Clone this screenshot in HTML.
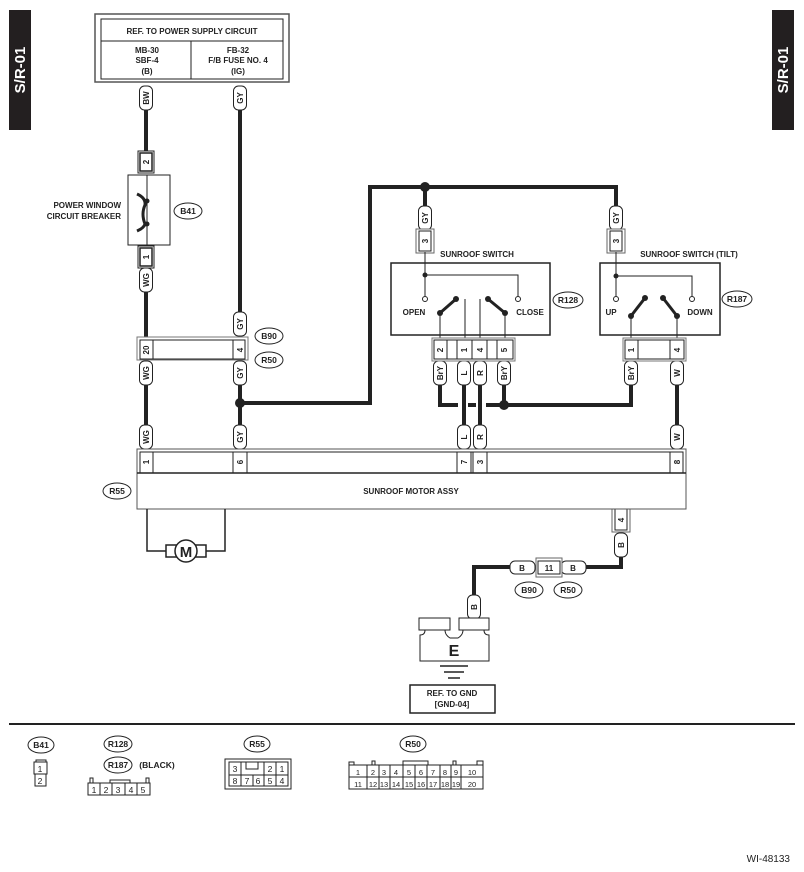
<!DOCTYPE html>
<html><head><meta charset="utf-8"><style>
html,body{margin:0;padding:0;background:#fff;}
svg{display:block;font-family:"Liberation Sans",Arial,sans-serif;font-weight:bold;}
</style></head><body>
<svg width="804" height="872" viewBox="0 0 804 872" xmlns="http://www.w3.org/2000/svg">
<defs>
<g id="pill"><rect x="-6.5" y="-12" width="13" height="24" rx="5" fill="#fff" stroke="#222" stroke-width="1"/></g>
</defs>
<!-- tabs -->
<rect x="9" y="10" width="22" height="120" fill="#231f20"/>
<text transform="translate(25,70) rotate(-90)" text-anchor="middle" fill="#fff" font-size="15">S/R-01</text>
<rect x="772" y="10" width="22" height="120" fill="#231f20"/>
<text transform="translate(788,70) rotate(-90)" text-anchor="middle" fill="#fff" font-size="15">S/R-01</text>

<!-- power box -->
<rect x="95" y="14" width="194" height="68" fill="#fff" stroke="#555" stroke-width="1.5"/>
<rect x="101" y="19" width="182" height="60" fill="#fff" stroke="#222" stroke-width="1"/>
<line x1="101" y1="41" x2="283" y2="41" stroke="#222"/>
<line x1="191" y1="41" x2="191" y2="79" stroke="#222"/>
<g font-size="8" text-anchor="middle" fill="#222">
<text x="192" y="34">REF. TO POWER SUPPLY CIRCUIT</text>
<text x="147" y="53">MB-30</text><text x="147" y="63">SBF-4</text><text x="147" y="74">(B)</text>
<text x="238" y="53">FB-32</text><text x="238" y="63">F/B FUSE NO. 4</text><text x="238" y="74">(IG)</text>
</g>

<!-- thick wires -->
<g stroke="#222" stroke-width="4" fill="none">
<line x1="146" y1="110" x2="146" y2="152"/>
<line x1="146" y1="292" x2="146" y2="337"/>
<line x1="146" y1="385" x2="146" y2="425"/>
<line x1="240" y1="110" x2="240" y2="312"/>
<line x1="240" y1="385" x2="240" y2="425"/>
<polyline points="240,403 370,403 370,187 616,187 616,207"/>
<line x1="425" y1="187" x2="425" y2="207"/>
<polyline points="440,385 440,405 631,405 631,385"/>
<line x1="504" y1="385" x2="504" y2="405"/>
<line x1="677" y1="385" x2="677" y2="425"/>
<polyline points="621,557 621,567 585,567"/>
<polyline points="510,567 474,567 474,595"/>
</g>
<g fill="#222">
<circle cx="240" cy="403" r="5"/><circle cx="425" cy="187" r="5"/><circle cx="504" cy="405" r="5"/>
</g>
<rect x="458" y="401" width="28" height="8" fill="#fff"/>
<g stroke="#222" stroke-width="4"><line x1="468" y1="405" x2="476" y2="405"/></g>
<g stroke="#222" stroke-width="4"><line x1="464" y1="385" x2="464" y2="425"/><line x1="480" y1="385" x2="480" y2="425"/></g>

<!-- pills -->
<g font-size="8" fill="#222" text-anchor="middle">
<g transform="translate(146,98)"><use href="#pill"/><text transform="rotate(-90)" y="3">BW</text></g>
<g transform="translate(240,98)"><use href="#pill"/><text transform="rotate(-90)" y="3">GY</text></g>
<g transform="translate(146,280)"><use href="#pill"/><text transform="rotate(-90)" y="3">WG</text></g>
<g transform="translate(240,324)"><use href="#pill"/><text transform="rotate(-90)" y="3">GY</text></g>
<g transform="translate(146,373)"><use href="#pill"/><text transform="rotate(-90)" y="3">WG</text></g>
<g transform="translate(240,373)"><use href="#pill"/><text transform="rotate(-90)" y="3">GY</text></g>
<g transform="translate(146,437)"><use href="#pill"/><text transform="rotate(-90)" y="3">WG</text></g>
<g transform="translate(240,437)"><use href="#pill"/><text transform="rotate(-90)" y="3">GY</text></g>
<g transform="translate(425,218)"><use href="#pill"/><text transform="rotate(-90)" y="3">GY</text></g>
<g transform="translate(616,218)"><use href="#pill"/><text transform="rotate(-90)" y="3">GY</text></g>
<g transform="translate(440,373)"><use href="#pill"/><text transform="rotate(-90)" y="3">BrY</text></g>
<g transform="translate(464,373)"><use href="#pill"/><text transform="rotate(-90)" y="3">L</text></g>
<g transform="translate(480,373)"><use href="#pill"/><text transform="rotate(-90)" y="3">R</text></g>
<g transform="translate(504,373)"><use href="#pill"/><text transform="rotate(-90)" y="3">BrY</text></g>
<g transform="translate(631,373)"><use href="#pill"/><text transform="rotate(-90)" y="3">BrY</text></g>
<g transform="translate(677,373)"><use href="#pill"/><text transform="rotate(-90)" y="3">W</text></g>
<g transform="translate(464,437)"><use href="#pill"/><text transform="rotate(-90)" y="3">L</text></g>
<g transform="translate(480,437)"><use href="#pill"/><text transform="rotate(-90)" y="3">R</text></g>
<g transform="translate(677,437)"><use href="#pill"/><text transform="rotate(-90)" y="3">W</text></g>
<g transform="translate(621,545)"><use href="#pill"/><text transform="rotate(-90)" y="3">B</text></g>
<g transform="translate(474,607)"><use href="#pill"/><text transform="rotate(-90)" y="3">B</text></g>
<rect x="510" y="561" width="25" height="13" rx="5" fill="#fff" stroke="#222"/><text x="522" y="571">B</text>
<rect x="561" y="561" width="25" height="13" rx="5" fill="#fff" stroke="#222"/><text x="573" y="571">B</text>
</g>

<!-- small pin connectors -->
<g fill="#fff" stroke="#222" stroke-width="1">
<rect x="138" y="151" width="16" height="22"/><rect x="140" y="153" width="12" height="18" stroke-width="1.5"/>
<rect x="138" y="246" width="16" height="22"/><rect x="140" y="248" width="12" height="18" stroke-width="1.5"/>
<rect x="416" y="229" width="18" height="24" stroke="#666"/><rect x="419" y="231" width="12" height="20"/>
<rect x="607" y="229" width="18" height="24" stroke="#666"/><rect x="610" y="231" width="12" height="20"/>
<rect x="612" y="509" width="18" height="23" stroke="#666"/><rect x="615" y="509" width="12" height="21"/>
<rect x="536" y="558" width="26" height="19" stroke="#666"/><rect x="538" y="561" width="22" height="13"/>
</g>
<g font-size="8" fill="#222" text-anchor="middle">
<text transform="translate(149,162) rotate(-90)" y="0">2</text>
<text transform="translate(149,257) rotate(-90)">1</text>
<text transform="translate(428,241) rotate(-90)">3</text>
<text transform="translate(619,241) rotate(-90)">3</text>
<text transform="translate(624,520) rotate(-90)">4</text>
<text x="549" y="571">11</text>
</g>

<!-- circuit breaker -->
<rect x="128" y="175" width="42" height="70" fill="#fff" stroke="#222"/>
<line x1="147" y1="175" x2="147" y2="245" stroke="#222"/>
<path d="M137,194 Q146,198 145,205 Q141,214 145,224 Q144,228 137,231" stroke="#222" stroke-width="3" fill="none"/>
<circle cx="147" cy="201" r="2.5" fill="#222"/><circle cx="147" cy="224" r="2.5" fill="#222"/>
<g font-size="8" fill="#222" text-anchor="end"><text x="121" y="208">POWER WINDOW</text><text x="121" y="219">CIRCUIT BREAKER</text></g>

<!-- ovals -->
<g font-size="8.5" fill="#222" text-anchor="middle">
<g fill="#fff" stroke="#222"><ellipse cx="188" cy="211" rx="14" ry="8"/><ellipse cx="269" cy="336" rx="14" ry="8"/><ellipse cx="269" cy="360" rx="14" ry="8"/>
<ellipse cx="117" cy="491" rx="14" ry="8"/><ellipse cx="568" cy="300" rx="15" ry="8"/><ellipse cx="737" cy="299" rx="15" ry="8"/>
<ellipse cx="529" cy="590" rx="14" ry="8"/><ellipse cx="568" cy="590" rx="14" ry="8"/></g>
<text x="188" y="214">B41</text><text x="269" y="339">B90</text><text x="269" y="363">R50</text>
<text x="117" y="494">R55</text><text x="568" y="303">R128</text><text x="737" y="302">R187</text>
<text x="529" y="593">B90</text><text x="568" y="593">R50</text>
</g>

<!-- B90/R50 connector -->
<rect x="137" y="337" width="111" height="23" fill="#fff" stroke="#777"/>
<rect x="140" y="340" width="105" height="19" fill="#fff" stroke="#222"/>
<g stroke="#222"><line x1="153" y1="340" x2="153" y2="359"/><line x1="233" y1="340" x2="233" y2="359"/></g>
<g font-size="8" fill="#222" text-anchor="middle"><text transform="translate(149,350) rotate(-90)">20</text><text transform="translate(243,350) rotate(-90)">4</text></g>

<!-- motor assy -->
<rect x="137" y="449" width="549" height="60" fill="#fff" stroke="#555"/>
<rect x="140" y="452" width="543" height="21" fill="#fff" stroke="#222"/>
<line x1="137" y1="473" x2="686" y2="473" stroke="#222" stroke-width="1.5"/>
<g stroke="#222"><line x1="153" y1="452" x2="153" y2="473"/><line x1="233" y1="452" x2="233" y2="473"/><line x1="247" y1="452" x2="247" y2="473"/>
<line x1="457" y1="452" x2="457" y2="473"/><line x1="471" y1="452" x2="471" y2="473"/><line x1="473" y1="452" x2="473" y2="473"/><line x1="487" y1="452" x2="487" y2="473"/><line x1="670" y1="452" x2="670" y2="473"/></g>
<g font-size="8" fill="#222" text-anchor="middle">
<text transform="translate(149,462) rotate(-90)">1</text><text transform="translate(243,462) rotate(-90)">6</text>
<text transform="translate(467,462) rotate(-90)">7</text><text transform="translate(483,462) rotate(-90)">3</text><text transform="translate(680,462) rotate(-90)">8</text>
<text x="411" y="494">SUNROOF MOTOR ASSY</text></g>
<polyline points="147,509 147,551 166,551" fill="none" stroke="#222" stroke-width="1.5"/>
<polyline points="225,509 225,551 206,551" fill="none" stroke="#222" stroke-width="1.5"/>
<rect x="166" y="545" width="40" height="12" fill="#fff" stroke="#222" stroke-width="1.5"/>
<circle cx="186" cy="551" r="11" fill="#fff" stroke="#222" stroke-width="1.5"/>
<text x="186" y="557" font-size="15" text-anchor="middle" fill="#222">M</text>

<!-- switches -->
<g font-size="8" fill="#222" text-anchor="middle"><text x="477" y="257">SUNROOF SWITCH</text><text x="689" y="257">SUNROOF SWITCH (TILT)</text></g>
<rect x="391" y="263" width="159" height="72" fill="#fff" stroke="#222" stroke-width="1.5"/>
<rect x="600" y="263" width="120" height="72" fill="#fff" stroke="#222" stroke-width="1.5"/>
<g stroke="#222" stroke-width="1" fill="none">
<line x1="425" y1="252" x2="425" y2="296"/><polyline points="425,275 518,275 518,296"/>
<line x1="440" y1="313" x2="440" y2="338"/><line x1="465" y1="299" x2="465" y2="338"/><line x1="480" y1="299" x2="480" y2="338"/><line x1="505" y1="313" x2="505" y2="338"/>
<line x1="616" y1="252" x2="616" y2="296"/><polyline points="616,276 692,276 692,296"/>
<line x1="631" y1="316" x2="631" y2="338"/><line x1="677" y1="316" x2="677" y2="338"/>
</g>
<g fill="#222"><circle cx="425" cy="275" r="2.5"/><circle cx="616" cy="276" r="2.5"/></g>
<g fill="#fff" stroke="#222"><circle cx="425" cy="299" r="2.5"/><circle cx="518" cy="299" r="2.5"/><circle cx="616" cy="299" r="2.5"/><circle cx="692" cy="299" r="2.5"/></g>
<g stroke="#222" stroke-width="3"><line x1="440" y1="313" x2="456" y2="299"/><line x1="488" y1="299" x2="505" y2="313"/><line x1="631" y1="316" x2="645" y2="298"/><line x1="663" y1="298" x2="677" y2="316"/></g>
<g fill="#222"><circle cx="440" cy="313" r="3"/><circle cx="456" cy="299" r="3"/><circle cx="488" cy="299" r="3"/><circle cx="505" cy="313" r="3"/>
<circle cx="631" cy="316" r="3"/><circle cx="645" cy="298" r="3"/><circle cx="663" cy="298" r="3"/><circle cx="677" cy="316" r="3"/></g>
<g font-size="8" fill="#222" text-anchor="middle"><text x="414" y="315">OPEN</text><text x="530" y="315">CLOSE</text><text x="611" y="315">UP</text><text x="700" y="315">DOWN</text></g>
<!-- switch connectors -->
<rect x="432" y="338" width="83" height="23" fill="#fff" stroke="#777"/>
<rect x="434" y="340" width="79" height="19" fill="#fff" stroke="#222"/>
<g stroke="#222"><line x1="447" y1="340" x2="447" y2="359"/><line x1="457" y1="340" x2="457" y2="359"/><line x1="472" y1="340" x2="472" y2="359"/><line x1="487" y1="340" x2="487" y2="359"/><line x1="497" y1="340" x2="497" y2="359"/></g>
<rect x="623" y="338" width="63" height="23" fill="#fff" stroke="#777"/>
<rect x="625" y="340" width="59" height="19" fill="#fff" stroke="#222"/>
<g stroke="#222"><line x1="638" y1="340" x2="638" y2="359"/><line x1="670" y1="340" x2="670" y2="359"/></g>
<g font-size="8" fill="#222" text-anchor="middle">
<text transform="translate(443,350) rotate(-90)">2</text><text transform="translate(467,350) rotate(-90)">1</text><text transform="translate(483,350) rotate(-90)">4</text><text transform="translate(507,350) rotate(-90)">5</text>
<text transform="translate(634,350) rotate(-90)">1</text><text transform="translate(680,350) rotate(-90)">4</text></g>

<!-- ground -->
<g fill="#fff" stroke="#222" stroke-width="1">
<rect x="419" y="618" width="31" height="12"/><rect x="459" y="618" width="30" height="12"/>
<path d="M420,641 L420,635 Q425,635 425,630 L445,630 Q445,635 450,638 L458,638 Q463,635 463,630 L484,630 Q484,635 489,635 L489,661 L420,661 Z"/>
</g>
<text x="454" y="656" font-size="16" text-anchor="middle" fill="#222">E</text>
<g stroke="#222" stroke-width="1.5"><line x1="440" y1="666" x2="468" y2="666"/><line x1="444" y1="672" x2="464" y2="672"/><line x1="448" y1="678" x2="460" y2="678"/></g>
<rect x="410" y="685" width="85" height="28" fill="#fff" stroke="#222" stroke-width="1.5"/>
<g font-size="8" fill="#222" text-anchor="middle"><text x="452" y="696">REF. TO GND</text><text x="452" y="707">[GND-04]</text></g>

<!-- divider -->
<line x1="9" y1="724" x2="795" y2="724" stroke="#222" stroke-width="2"/>

<!-- legend -->
<g font-size="8.5" fill="#222" text-anchor="middle">
<g fill="#fff" stroke="#222"><ellipse cx="41" cy="745" rx="13" ry="8"/><ellipse cx="118" cy="744" rx="14" ry="8"/><ellipse cx="118" cy="765" rx="14" ry="8"/><ellipse cx="257" cy="744" rx="13" ry="8"/><ellipse cx="413" cy="744" rx="13" ry="8"/></g>
<text x="41" y="748">B41</text><text x="118" y="747">R128</text><text x="118" y="768">R187</text><text x="157" y="768">(BLACK)</text><text x="257" y="747">R55</text><text x="413" y="747">R50</text>
</g>
<g fill="#fff" stroke="#222" stroke-width="1">
<rect x="36" y="760" width="10" height="2"/><rect x="34" y="762" width="13" height="12"/><rect x="35" y="774" width="11" height="12"/>
<rect x="90" y="778" width="3" height="5"/><rect x="110" y="780" width="20" height="3"/><rect x="146" y="778" width="3" height="5"/>
<rect x="88" y="783" width="62" height="12"/>
<rect x="225" y="759" width="66" height="30"/>
<rect x="229" y="762" width="59" height="24"/>
<rect x="349" y="762" width="5" height="3"/><rect x="372" y="761" width="3" height="4"/><rect x="403" y="761" width="25" height="4"/><rect x="453" y="761" width="3" height="4"/><rect x="477" y="761" width="6" height="4"/>
<rect x="349" y="765" width="134" height="24"/>
</g>
<g stroke="#222"><line x1="100" y1="783" x2="100" y2="795"/><line x1="112" y1="783" x2="112" y2="795"/><line x1="125" y1="783" x2="125" y2="795"/><line x1="137" y1="783" x2="137" y2="795"/>
<line x1="229" y1="775" x2="288" y2="775"/><line x1="241" y1="762" x2="241" y2="786"/><line x1="253" y1="775" x2="253" y2="786"/><line x1="264" y1="762" x2="264" y2="786"/><line x1="276" y1="762" x2="276" y2="786"/>
<polyline points="246,762 246,769 258,769 258,762" fill="none"/>
<line x1="349" y1="777" x2="483" y2="777"/>
<line x1="367" y1="765" x2="367" y2="789"/><line x1="379" y1="765" x2="379" y2="789"/><line x1="390" y1="765" x2="390" y2="789"/><line x1="403" y1="765" x2="403" y2="789"/><line x1="415" y1="765" x2="415" y2="789"/><line x1="427" y1="765" x2="427" y2="789"/><line x1="440" y1="765" x2="440" y2="789"/><line x1="451" y1="765" x2="451" y2="789"/><line x1="461" y1="765" x2="461" y2="789"/></g>
<g font-size="8.5" fill="#222" text-anchor="middle" font-weight="normal">
<text x="40" y="772">1</text><text x="40" y="784">2</text>
<text x="94" y="793">1</text><text x="106" y="793">2</text><text x="118" y="793">3</text><text x="131" y="793">4</text><text x="143" y="793">5</text>
<text x="235" y="772">3</text><text x="270" y="772">2</text><text x="282" y="772">1</text>
<text x="235" y="784">8</text><text x="247" y="784">7</text><text x="258" y="784">6</text><text x="270" y="784">5</text><text x="282" y="784">4</text>
</g>
<g font-size="7.5" fill="#222" text-anchor="middle" font-weight="normal">
<text x="358" y="775">1</text><text x="373" y="775">2</text><text x="384" y="775">3</text><text x="396" y="775">4</text><text x="409" y="775">5</text><text x="421" y="775">6</text><text x="433" y="775">7</text><text x="445" y="775">8</text><text x="456" y="775">9</text><text x="472" y="775">10</text>
<text x="358" y="787">11</text><text x="373" y="787">12</text><text x="384" y="787">13</text><text x="396" y="787">14</text><text x="409" y="787">15</text><text x="421" y="787">16</text><text x="433" y="787">17</text><text x="445" y="787">18</text><text x="456" y="787">19</text><text x="472" y="787">20</text>
</g>
<text x="790" y="862" font-size="10" text-anchor="end" fill="#222" font-weight="normal">WI-48133</text>
</svg>
</body></html>
